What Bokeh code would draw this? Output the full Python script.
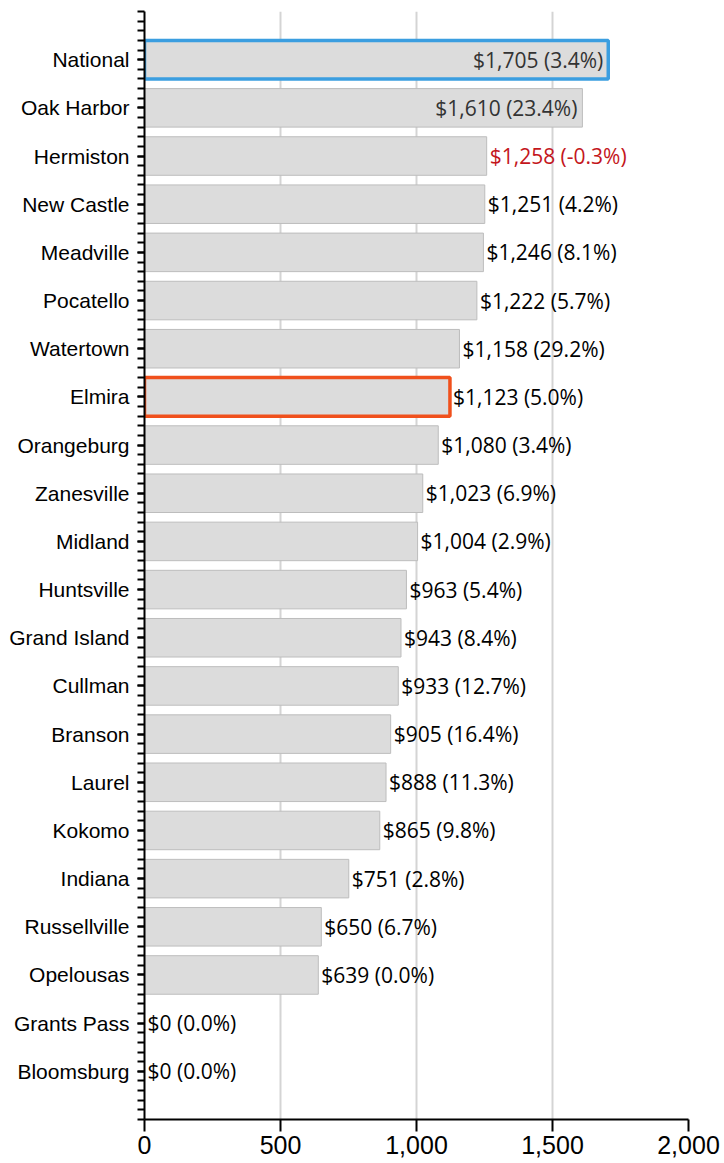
from bokeh.plotting import figure
from bokeh.models import ColumnDataSource, Range1d, FixedTicker, NumeralTickFormatter
from bokeh.core.properties import value
from bokeh.embed import file_html
from bokeh.resources import INLINE

cities = ["National", "Oak Harbor", "Hermiston", "New Castle", "Meadville", "Pocatello",
          "Watertown", "Elmira", "Orangeburg", "Zanesville", "Midland", "Huntsville",
          "Grand Island", "Cullman", "Branson", "Laurel", "Kokomo", "Indiana",
          "Russellville", "Opelousas", "Grants Pass", "Bloomsburg"]
amounts = [1705, 1610, 1258, 1251, 1246, 1222, 1158, 1123, 1080, 1023, 1004, 963,
           943, 933, 905, 888, 865, 751, 650, 639, 0, 0]
changes = [3.4, 23.4, -0.3, 4.2, 8.1, 5.7, 29.2, 5.0, 3.4, 6.9, 2.9, 5.4,
           8.4, 12.7, 16.4, 11.3, 9.8, 2.8, 6.7, 0.0, 0.0, 0.0]
x_ticks = [0, 500, 1000, 1500, 2000]
benchmark = "National"
focus = "Elmira"

n = len(cities)
idx = list(range(n))

line_colors, line_widths = [], []
for c in cities:
    if c == benchmark:
        line_colors.append("#3b9ee0"); line_widths.append(3.5)
    elif c == focus:
        line_colors.append("#f0501c"); line_widths.append(3.5)
    else:
        line_colors.append("#bdbdbd"); line_widths.append(1)

labels = ["${:,.0f} ({:.1f}%)".format(a, ch) for a, ch in zip(amounts, changes)]
inside = [a > 1500 for a in amounts]
lab_color = []
for a, ch, ins in zip(amounts, changes, inside):
    if ch < 0:
        lab_color.append("#c4161c")
    elif ins:
        lab_color.append("#333333")
    else:
        lab_color.append("#000000")

src = ColumnDataSource(dict(y=idx, x=amounts, lc=line_colors, lw=line_widths))

p = figure(width=720, height=1163, output_backend="svg", toolbar_location=None,
           x_range=Range1d(0, 2000), y_range=Range1d(n, -1),
           min_border_left=144, min_border_right=32, min_border_top=11, min_border_bottom=44)
p.outline_line_color = None
p.background_fill_color = "white"

p.hbar(y="y", right="x", left=0, height=0.8, source=src,
       fill_color="#dcdcdc", line_color="lc", line_width="lw")

in_src = ColumnDataSource(dict(
    x=[a for a, i in zip(amounts, inside) if i],
    y=[k for k, i in zip(idx, inside) if i],
    t=[l for l, i in zip(labels, inside) if i],
    c=[c for c, i in zip(lab_color, inside) if i]))
out_src = ColumnDataSource(dict(
    x=[a for a, i in zip(amounts, inside) if not i],
    y=[k for k, i in zip(idx, inside) if not i],
    t=[l for l, i in zip(labels, inside) if not i],
    c=[c for c, i in zip(lab_color, inside) if not i]))

p.text(x="x", y="y", text="t", source=in_src, text_align="right", text_baseline="middle",
       x_offset=-5, text_color="c", text_font=value("Open Sans"), text_font_size="21px")
p.text(x="x", y="y", text="t", source=out_src, text_align="left", text_baseline="middle",
       x_offset=3, text_color="c", text_font=value("Open Sans"), text_font_size="21px")

# x axis
p.xaxis.ticker = FixedTicker(ticks=x_ticks)
p.xaxis.formatter = NumeralTickFormatter(format="0,0")
p.xaxis.major_label_text_font = "Liberation Sans"
p.xaxis.major_label_text_font_size = "25px"
p.xaxis.major_label_text_color = "black"
p.xaxis.major_tick_out = 12
p.xaxis.major_tick_in = 0
p.xaxis.minor_tick_out = 0
p.xaxis.minor_tick_in = 0
p.xaxis.axis_line_width = 2
p.xaxis.major_tick_line_width = 2
p.xaxis.axis_line_color = "black"
p.xaxis.major_label_standoff = 4

# y axis
minor = [round(-1 + 0.2 * k, 1) for k in range(int((n + 1) / 0.2) + 1)]
p.yaxis.ticker = FixedTicker(ticks=idx, minor_ticks=minor)
p.yaxis.major_label_overrides = {i: c for i, c in zip(idx, cities)}
p.yaxis.major_label_text_font = "Liberation Sans"
p.yaxis.major_label_text_font_size = "21px"
p.yaxis.major_label_text_color = "black"
p.yaxis.major_tick_out = 7
p.yaxis.major_tick_in = 0
p.yaxis.minor_tick_out = 7
p.yaxis.minor_tick_in = 0
p.yaxis.major_tick_line_width = 2
p.yaxis.minor_tick_line_width = 2
p.yaxis.axis_line_width = 2
p.yaxis.axis_line_color = "black"
p.yaxis.major_label_standoff = 8

p.xgrid.ticker = FixedTicker(ticks=x_ticks[1:])
p.xgrid.grid_line_color = "#d4d4d4"
p.xgrid.grid_line_width = 2
p.ygrid.grid_line_color = None

open("out.html", "w").write(file_html(p, INLINE))
